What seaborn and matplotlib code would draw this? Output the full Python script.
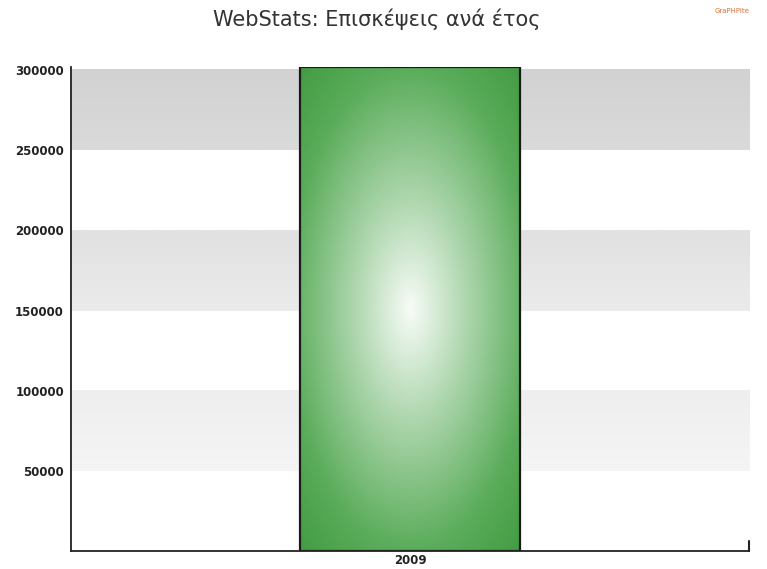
import numpy as np
import pandas as pd
import matplotlib
matplotlib.use("Agg")
import matplotlib.pyplot as plt
import seaborn as sns
from matplotlib.colors import LinearSegmentedColormap

# Data
years = ["2009"]
visits = [302000]
y_ticks = [50000, 100000, 150000, 200000, 250000, 300000]
band_ranges = [(50000, 100000), (150000, 200000), (250000, 300000)]
band_colors = [("#eeeeee", "#f5f5f5"), ("#e1e1e1", "#ebebeb"), ("#d2d2d2", "#dadada")]
title = "WebStats: Επισκέψεις ανά έτος"

sns.set_style("white")
plt.rcParams["font.family"] = ["DejaVu Sans"]

df = pd.DataFrame({"year": years, "visits": visits})

fig = plt.figure(figsize=(7.67, 5.69), dpi=100)
ax = fig.add_axes([71 / 767, 18 / 569, 678 / 767, 484 / 569])

bar_width = 0.3245
sns.barplot(data=df, x="year", y="visits", ax=ax, width=bar_width,
            color="#55aa55", edgecolor="#1a1a1a", linewidth=1.6, zorder=3)

xlim = (-0.5, 0.5)
ylim = (0, max(visits))

# Horizontal shaded bands with a soft vertical gradient
for (lo, hi), (c_top, c_bot) in zip(band_ranges, band_colors):
    cmap = LinearSegmentedColormap.from_list("band", [c_bot, c_top])
    grad = np.linspace(0, 1, 64).reshape(-1, 1)
    ax.imshow(grad, extent=(xlim[0], xlim[1], lo, hi), origin="lower",
              cmap=cmap, aspect="auto", zorder=0, interpolation="bilinear")

# Radial gradient fill for the bar
patch = ax.patches[0]
x0, y0 = patch.get_x(), patch.get_y()
w, h = patch.get_width(), patch.get_height()
nx, ny = 200, 400
gx, gy = np.meshgrid(np.linspace(-1, 1, nx), np.linspace(-1, 1, ny))
r = np.sqrt((0.9 * gx) ** 2 + gy ** 2)
stops = [(0.0, (248, 252, 248)), (0.45, (175, 215, 175)), (1.0, (90, 172, 90)),
         (1.35, (66, 156, 66))]
rgb = np.zeros((ny, nx, 3))
for ch in range(3):
    rgb[..., ch] = np.interp(r, [s[0] for s in stops], [s[1][ch] for s in stops]) / 255
img = ax.imshow(rgb, extent=(x0, x0 + w, y0, y0 + h), origin="lower",
                aspect="auto", zorder=2, interpolation="bilinear")
img.set_clip_path(patch)
patch.set_facecolor("none")

ax.set_xlim(*xlim)
ax.set_ylim(*ylim)

# Axes styling
for side in ["top", "right"]:
    ax.spines[side].set_visible(False)
for side in ["left", "bottom"]:
    ax.spines[side].set_color("#222222")
    ax.spines[side].set_linewidth(1.3)
    ax.spines[side].set_zorder(5)

ax.set_yticks(y_ticks)
ax.set_yticklabels([str(v) for v in y_ticks])
ax.set_xticks([0])
ax.set_xticklabels(years)
ax.tick_params(axis="both", which="both", direction="in", length=7, width=1.2,
               color="#222222", labelsize=8.5, labelcolor="#222222")
ax.tick_params(axis="y", pad=5)
ax.tick_params(axis="x", pad=2.5)
for lab in ax.get_yticklabels() + ax.get_xticklabels():
    lab.set_fontweight("bold")
ax.set_xlabel("")
ax.set_ylabel("")

# End marker of the category axis
ax.axvline(xlim[1], 0, 10 / 484, color="#222222", lw=1.5, clip_on=False, zorder=5)

fig.text(0.491, 1 - 19 / 569, title, ha="center", va="center",
         fontsize=15, color="#333333", family=["DejaVu Sans"])
fig.text(0.955, 1 - 11 / 569, "GraPHPite", ha="center", va="center",
         fontsize=5, color="#e0703a")

fig.savefig("out.png", dpi=100)
